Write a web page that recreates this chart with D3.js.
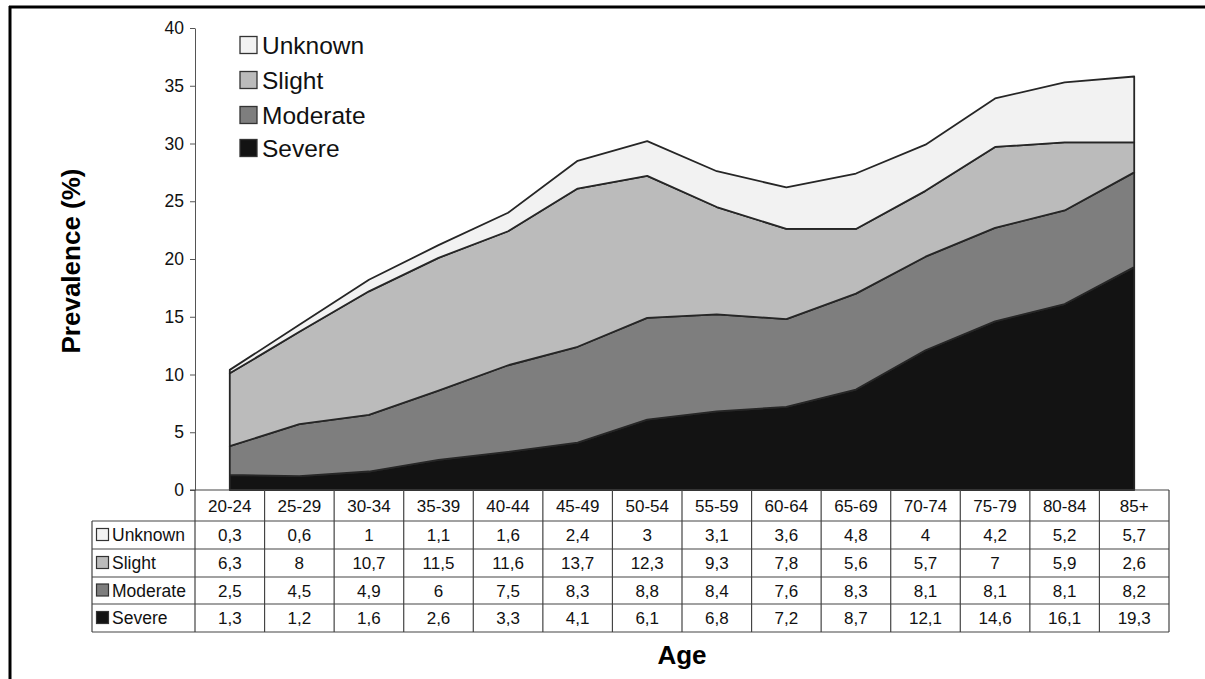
<!DOCTYPE html>
<html>
<head>
<meta charset="utf-8">
<script src="https://cdn.jsdelivr.net/npm/d3@7"></script>
<style>
html,body{margin:0;padding:0;background:#fff;}
svg{display:block;font-family:"Liberation Sans",Arial,sans-serif;}
</style>
</head>
<body>
<svg id="c" width="1205" height="679"></svg>
<script>
const categories = ["20-24","25-29","30-34","35-39","40-44","45-49","50-54","55-59","60-64","65-69","70-74","75-79","80-84","85+"];
const unknown  = [0.3,0.6,1,1.1,1.6,2.4,3,3.1,3.6,4.8,4,4.2,5.2,5.7];
const slight   = [6.3,8,10.7,11.5,11.6,13.7,12.3,9.3,7.8,5.6,5.7,7,5.9,2.6];
const moderate = [2.5,4.5,4.9,6,7.5,8.3,8.8,8.4,7.6,8.3,8.1,8.1,8.1,8.2];
const severe   = [1.3,1.2,1.6,2.6,3.3,4.1,6.1,6.8,7.2,8.7,12.1,14.6,16.1,19.3];
const seriesNames = ["Severe","Moderate","Slight","Unknown"];
const seriesValues = [severe, moderate, slight, unknown];
const colors = {Severe:"#131313", Moderate:"#7e7e7e", Slight:"#bbbbbb", Unknown:"#f2f2f2"};
const yTicks = [0,5,10,15,20,25,30,35,40];

const svg = d3.select("#c");

// frame
svg.append("line").attr("x1",9).attr("x2",1205).attr("y1",7).attr("y2",7).attr("stroke","#000").attr("stroke-width",3);
svg.append("line").attr("x1",10).attr("x2",10).attr("y1",6).attr("y2",679).attr("stroke","#000").attr("stroke-width",3);

const x = d3.scaleBand().domain(categories).range([195,1169]);
const y = d3.scaleLinear().domain([0,40]).range([490,28]);
const cx = c => x(c) + x.bandwidth()/2;

const table = categories.map((c,i)=>{
  const o = {cat:c};
  seriesNames.forEach((s,j)=>o[s]=seriesValues[j][i]);
  return o;
});
const stack = d3.stack().keys(seriesNames)(table);
const area = d3.area().x(d=>cx(d.data.cat)).y0(d=>y(d[0])).y1(d=>y(d[1]));

svg.append("g").selectAll("path").data(stack).join("path")
  .attr("d",area)
  .attr("fill",d=>colors[d.key])
  .attr("stroke","#262626")
  .attr("stroke-width",1.8)
  .attr("stroke-linejoin","round");

// y axis
const yAxis = svg.append("g").attr("transform","translate(195,0)")
  .call(d3.axisLeft(y).tickValues(yTicks).tickSize(5).tickSizeOuter(0).tickPadding(6));
yAxis.select(".domain").attr("stroke","#555");
yAxis.selectAll(".tick line").attr("stroke","#555");
yAxis.selectAll(".tick text").attr("font-size",17.5).attr("fill","#111").attr("font-family","Liberation Sans, Arial, sans-serif");

// x axis line (top of table)
svg.append("line").attr("x1",190).attr("x2",1169).attr("y1",490).attr("y2",490).attr("stroke","#444").attr("stroke-width",1.2);

// data table
const rowTops = [521,549,577,604];
const rowBottom = 632;
const rowOrder = ["Unknown","Slight","Moderate","Severe"];
const g = svg.append("g").attr("stroke","#444").attr("stroke-width",1.2);
rowTops.concat([rowBottom]).forEach(yy=>{
  g.append("line").attr("x1",92).attr("x2",1169).attr("y1",yy).attr("y2",yy);
});
g.append("line").attr("x1",92).attr("x2",92).attr("y1",521).attr("y2",rowBottom);
categories.forEach(c=>{
  g.append("line").attr("x1",x(c)).attr("x2",x(c)).attr("y1",490).attr("y2",rowBottom);
});
g.append("line").attr("x1",1169).attr("x2",1169).attr("y1",490).attr("y2",rowBottom);

const fmt = v => String(v).replace(".",",");
const tg = svg.append("g").attr("font-size",17).attr("fill","#111").attr("text-anchor","middle");
categories.forEach(c=>{
  tg.append("text").attr("x",cx(c)).attr("y",(490+521)/2).attr("dy","0.36em").text(c);
});
rowOrder.forEach((s,r)=>{
  const yMid = (rowTops[r] + (r<3?rowTops[r+1]:rowBottom))/2;
  const vals = seriesValues[seriesNames.indexOf(s)];
  categories.forEach((c,i)=>{
    tg.append("text").attr("x",cx(c)).attr("y",yMid).attr("dy","0.36em").text(fmt(vals[i]));
  });
  svg.append("rect").attr("x",96.5).attr("y",yMid-6.5).attr("width",12).attr("height",12)
    .attr("fill",colors[s]).attr("stroke","#333").attr("stroke-width",1.2);
  svg.append("text").attr("x",112).attr("y",yMid).attr("dy","0.36em").attr("font-size",17.5).attr("fill","#111").text(s);
});

// legend
const legY = [45,80,115,148];
rowOrder.forEach((s,i)=>{
  svg.append("rect").attr("x",240).attr("y",legY[i]-8.5).attr("width",17).attr("height",17)
    .attr("fill",colors[s]).attr("stroke","#333").attr("stroke-width",1.3);
  svg.append("text").attr("x",262).attr("y",legY[i]).attr("dy","0.36em").attr("font-size",24.5).attr("fill","#111").text(s);
});

// axis titles
svg.append("text").attr("x",682).attr("y",664).attr("text-anchor","middle")
  .attr("font-size",26).attr("font-weight","bold").attr("fill","#000").text("Age");
svg.append("text").attr("transform","translate(80,261) rotate(-90)").attr("text-anchor","middle")
  .attr("font-size",26).attr("font-weight","bold").attr("fill","#000").text("Prevalence (%)");
</script>
</body>
</html>
